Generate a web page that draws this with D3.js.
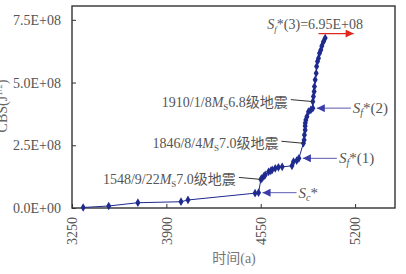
<!DOCTYPE html>
<html>
<head>
<meta charset="utf-8">
<script src="https://cdn.jsdelivr.net/npm/d3@7"></script>
<style>
  body { margin: 0; background: #fff; }
  text { font-family: "Liberation Serif", "Noto Sans CJK SC", serif; }
</style>
</head>
<body>
<div id="chart"></div>
<script>
// years (a) and CBS values
const years = [3327, 3503, 3704, 4001, 4049, 4511, 4535, 4551, 4558, 4571, 4581, 4604, 4619, 4629, 4650, 4672,
  4698, 4765, 4776, 4798, 4813, 4844, 4849, 4851, 4856, 4856, 4857, 4861, 4868, 4879, 4895, 4909,
  4909, 4913, 4918, 4920, 4925, 4932, 4935, 4941, 4948, 4955, 4964, 4971, 4982, 4994];
const cbs = [0.02, 0.08, 0.21, 0.25, 0.32, 0.59, 0.61, 1.14, 1.18, 1.26, 1.32, 1.44, 1.48, 1.52, 1.58, 1.62,
  1.64, 1.68, 1.85, 1.89, 1.98, 2.58, 2.71, 2.91, 3.11, 3.27, 3.39, 3.51, 3.64, 3.84, 3.91, 3.98,
  4.24, 4.44, 4.64, 4.84, 5.11, 5.37, 5.64, 5.84, 5.97, 6.17, 6.30, 6.46, 6.63, 6.77].map(v => v * 1e8);

const xTicks = [3250, 3900, 4550, 5200];
const yTicks = [0, 2.5e8, 5e8, 7.5e8];

// earthquakes: label parts and index of the point they mark
const quakes = [
  { date: "1548/9/22", mag: "7.0", idx: 7 },
  { date: "1846/8/4", mag: "7.0", idx: 21 },
  { date: "1910/1/8", mag: "6.8", idx: 32 }
];
// stage points S_c*, S_f*(1), S_f*(2)
const stages = [
  { sub: "c", tail: "*", idx: 6 },
  { sub: "f", tail: "*(1)", idx: 20 },
  { sub: "f", tail: "*(2)", idx: 31 }
];
const sf3 = 6.95e8;

const width = 406, height = 274;
const margin = { top: 6, right: 11, bottom: 66, left: 72 };

const svg = d3.select("#chart").append("svg")
  .attr("width", width)
  .attr("height", height);

const x = d3.scaleLinear().domain([3250, 5475]).range([margin.left, width - margin.right]);
const y = d3.scaleLinear().domain([0, 8.05e8]).range([height - margin.bottom, margin.top]);

const defs = svg.append("defs");
function marker(id, color) {
  defs.append("marker")
    .attr("id", id)
    .attr("viewBox", "0 0 10 10")
    .attr("refX", 10).attr("refY", 5)
    .attr("markerWidth", 9).attr("markerHeight", 8)
    .attr("markerUnits", "userSpaceOnUse")
    .attr("orient", "auto")
    .append("path").attr("d", "M0,0L10,5L0,10Z").attr("fill", color);
}
marker("blueHead", "#3c3ca8");
marker("redHead", "#e0281c");

// axes with inward ticks
const yAxis = svg.append("g")
  .attr("transform", `translate(${margin.left},0)`)
  .call(d3.axisLeft(y).tickValues(yTicks).tickSizeInner(-4).tickSizeOuter(0).tickPadding(11)
    .tickFormat(d => d === 0 ? "0.0E+00" : (d / 1e8).toFixed(1) + "E+08"));
yAxis.select(".domain").remove();
yAxis.selectAll("line").attr("stroke", "#333");
yAxis.selectAll("text").attr("font-size", 14).attr("fill", "#555");

const xAxis = svg.append("g")
  .attr("transform", `translate(0,${height - margin.bottom})`)
  .call(d3.axisBottom(x).tickValues(xTicks).tickSizeInner(-4).tickSizeOuter(0).tickFormat(d3.format("d")));
xAxis.select(".domain").remove();
xAxis.selectAll("line").attr("stroke", "#333");
xAxis.selectAll("text")
  .attr("font-size", 14).attr("fill", "#555")
  .attr("text-anchor", "end")
  .attr("transform", "rotate(-90)")
  .attr("x", -9).attr("y", 0).attr("dy", "0.35em");

// frame
svg.append("rect")
  .attr("x", margin.left).attr("y", margin.top)
  .attr("width", width - margin.left - margin.right)
  .attr("height", height - margin.top - margin.bottom)
  .attr("fill", "none").attr("stroke", "#333").attr("stroke-width", 1.4);

// axis titles
svg.append("text")
  .attr("transform", `translate(7,${106}) rotate(-90)`)
  .attr("text-anchor", "middle").attr("font-size", 14).attr("fill", "#666")
  .call(t => {
    t.append("tspan").text("CBS(J");
    t.append("tspan").attr("font-size", 9).attr("dy", -5).text("1/2");
    t.append("tspan").attr("dy", 5).text(")");
  });
svg.append("text")
  .attr("x", 234).attr("y", 263)
  .attr("text-anchor", "middle").attr("font-size", 14).attr("fill", "#777")
  .text("时间(a)");

// series
const pts = years.map((yr, i) => [yr, cbs[i]]);
svg.append("path")
  .datum(pts)
  .attr("fill", "none").attr("stroke", "#1e2a8e").attr("stroke-width", 1)
  .attr("d", d3.line().x(d => x(d[0])).y(d => y(d[1])));
svg.selectAll(".pt")
  .data(pts)
  .join("path")
  .attr("class", "pt")
  .attr("transform", d => `translate(${x(d[0])},${y(d[1])})`)
  .attr("d", d3.symbol(d3.symbolDiamond, 22))
  .attr("fill", "#1e2a8e");

// earthquake labels with leader lines
quakes.forEach(q => {
  const px = x(years[q.idx]), py = y(cbs[q.idx]);
  const tx = px - 25, ty = py + 1;
  svg.append("line")
    .attr("x1", tx + 3).attr("y1", ty - 3).attr("x2", px).attr("y2", py)
    .attr("stroke", "#333").attr("stroke-width", 1);
  const t = svg.append("text")
    .attr("x", tx).attr("y", ty + 4)
    .attr("text-anchor", "end").attr("font-size", 14).attr("fill", "#555");
  t.append("tspan").text(q.date);
  t.append("tspan").attr("font-style", "italic").text("M");
  t.append("tspan").attr("font-size", 9).attr("dy", 3).text("S");
  t.append("tspan").attr("dy", -3).text(q.mag + "级地震");
});

// stage arrows
stages.forEach(s => {
  const px = x(years[s.idx]) + 4, py = y(cbs[s.idx]);
  const len = 34;
  svg.append("line")
    .attr("x1", px + len).attr("y1", py).attr("x2", px).attr("y2", py)
    .attr("stroke", "#5a5ab0").attr("stroke-width", 1)
    .attr("marker-end", "url(#blueHead)");
  const t = svg.append("text")
    .attr("x", px + len + 2).attr("y", py + 5)
    .attr("font-size", 15).attr("fill", "#555");
  t.append("tspan").attr("font-style", "italic").text("S");
  t.append("tspan").attr("font-style", "italic").attr("font-size", 10).attr("dy", 3).text(s.sub);
  t.append("tspan").attr("dy", -3).text(s.tail);
});

// S_f*(3) level marker
const lastIdx = years.length - 1;
svg.append("line")
  .attr("x1", x(4948)).attr("y1", y(sf3)).attr("x2", x(5190)).attr("y2", y(sf3))
  .attr("stroke", "#e0281c").attr("stroke-width", 1.2)
  .attr("marker-end", "url(#redHead)");
const t3 = svg.append("text")
  .attr("x", x(years[lastIdx]) - 10).attr("y", y(sf3) - 5)
  .attr("text-anchor", "middle").attr("font-size", 14).attr("fill", "#555");
t3.append("tspan").attr("font-style", "italic").text("S");
t3.append("tspan").attr("font-style", "italic").attr("font-size", 9).attr("dy", 3).text("f");
t3.append("tspan").attr("dy", -3).text("*(3)=6.95E+08");
</script>
</body>
</html>
